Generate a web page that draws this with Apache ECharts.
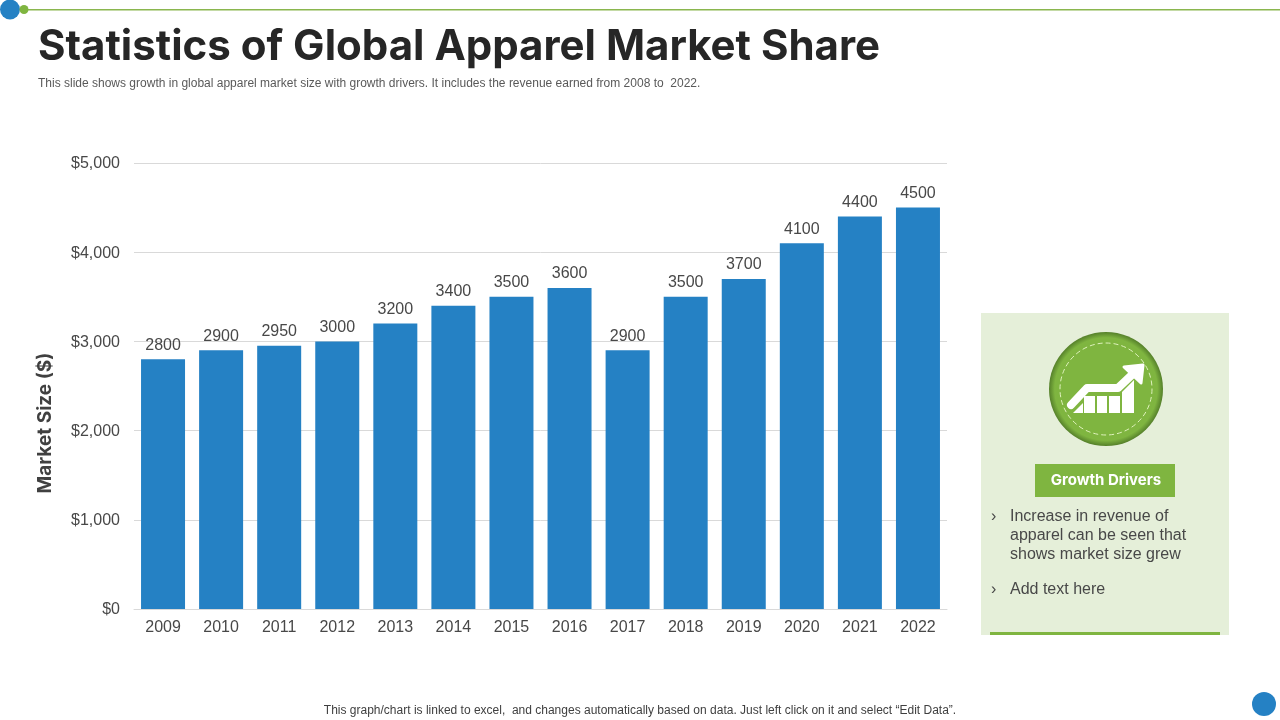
<!DOCTYPE html>
<html>
<head>
<meta charset="utf-8">
<title>Statistics of Global Apparel Market Share</title>
<script src="https://cdn.jsdelivr.net/npm/echarts@6/dist/echarts.min.js"></script>
<style>
html,body{margin:0;padding:0;background:#fff}
#main{width:1280px;height:720px}
</style>
</head>
<body>
<div id="main"></div>
<script>
const years = ['2009','2010','2011','2012','2013','2014','2015','2016','2017','2018','2019','2020','2021','2022']
const marketSize = [2800,2900,2950,3000,3200,3400,3500,3600,2900,3500,3700,4100,4400,4500]
const driverLines = ['Increase in revenue of','apparel can be seen that','shows market size grew']

const BLUE = '#2581c4'
const GREEN = '#7fb540'
const FONT = 'Liberation Sans'
const TEXT = '#484848'

const myChart = echarts.init(document.getElementById('main'))

function label(x, y, text, size, color, extra) {
    return {
        type: 'text', x, y,
        style: Object.assign({ text, fill: color, font: size + 'px "' + FONT + '"', textVerticalAlign: 'middle' }, extra)
    }
}

// side panel plus top decoration, everything that is not the chart itself
const decor = [
    { type: 'rect', shape: { x: 20, y: 9, width: 1260, height: 1.5 }, style: { fill: '#8ab64e' } },
    { type: 'circle', shape: { cx: 10, cy: 9.5, r: 10 }, style: { fill: BLUE } },
    { type: 'circle', shape: { cx: 24, cy: 9.5, r: 4.5 }, style: { fill: GREEN } },
    { type: 'circle', shape: { cx: 1264, cy: 704, r: 12 }, style: { fill: BLUE } },
    { type: 'text', x: 38, y: 47, style: { text: 'Statistics of Global Apparel Market Share', fill: '#262626', font: 'bold 42px Inter', textVerticalAlign: 'middle' } },
    label(38, 84, 'This slide shows growth in global apparel market size with growth drivers. It includes the revenue earned from 2008 to  2022.', 12, '#595959'),
    label(640, 711, 'This graph/chart is linked to excel,  and changes automatically based on data. Just left click on it and select \u201cEdit Data\u201d.', 12, '#404040', { textAlign: 'center' }),
    { type: 'text', x: 45, y: 423, rotation: Math.PI / 2, style: { text: 'Market Size ($)', fill: '#404040', font: 'bold 19px Inter', textAlign: 'center', textVerticalAlign: 'middle' } },

    { type: 'rect', shape: { x: 981, y: 313, width: 248, height: 322 }, style: { fill: '#e5efd9' } },
    { type: 'rect', shape: { x: 990, y: 632, width: 230, height: 3 }, style: { fill: GREEN } },
    {
        type: 'circle', shape: { cx: 1106, cy: 389, r: 57 },
        style: {
            fill: new echarts.graphic.RadialGradient(0.5, 0.5, 0.5, [
                { offset: 0, color: GREEN }, { offset: 0.9, color: GREEN }, { offset: 1, color: '#55802a' }
            ])
        }
    },
    { type: 'circle', shape: { cx: 1106, cy: 389, r: 46 }, style: { fill: 'none', stroke: '#dff2bd', lineWidth: 1, lineDash: [5, 3] } },
    { type: 'polygon', shape: { points: [[1073,413],[1083,403],[1083,413]] }, style: { fill: '#fff' } },
    { type: 'rect', shape: { x: 1084, y: 396, width: 11, height: 17 }, style: { fill: '#fff' } },
    { type: 'rect', shape: { x: 1097, y: 396, width: 10, height: 17 }, style: { fill: '#fff' } },
    { type: 'rect', shape: { x: 1109, y: 396, width: 11, height: 17 }, style: { fill: '#fff' } },
    { type: 'polygon', shape: { points: [[1122,392],[1134,380],[1134,413],[1122,413]] }, style: { fill: '#fff' } },
    { type: 'polyline', shape: { points: [[1071,405],[1087,388],[1118,388],[1136,371]] }, style: { fill: 'none', stroke: '#fff', lineWidth: 8, lineCap: 'round', lineJoin: 'round' } },
    { type: 'polygon', shape: { points: [[1124,367],[1143,365],[1141,383]] }, style: { fill: '#fff', stroke: '#fff', lineWidth: 3, lineJoin: 'round' } },

    { type: 'rect', shape: { x: 1035, y: 464, width: 140, height: 33 }, style: { fill: GREEN } },
    label(1106, 480.5, 'Growth Drivers', 15, '#fff', { textAlign: 'center', font: 'bold 15px Inter' }),
    label(991, 517, '\u203a', 16, TEXT),
    label(1010, 517, driverLines[0], 16, TEXT),
    label(1010, 536, driverLines[1], 16, TEXT),
    label(1010, 555, driverLines[2], 16, TEXT),
    label(991, 590, '\u203a', 16, TEXT),
    label(1010, 590, 'Add text here', 16, TEXT)
]

myChart.setOption({
    animation: false,
    backgroundColor: '#fff',
    textStyle: { fontFamily: FONT },
    grid: { left: 134, right: 333, top: 163, bottom: 111 },
    xAxis: {
        type: 'category',
        data: years,
        axisLine: { lineStyle: { color: '#d9d9d9' } },
        axisTick: { show: false },
        axisLabel: { color: TEXT, fontSize: 16, margin: 11 }
    },
    yAxis: {
        type: 'value',
        min: 0,
        max: 5000,
        interval: 1000,
        axisLine: { show: false },
        axisTick: { show: false },
        axisLabel: { color: TEXT, fontSize: 16, margin: 14, verticalAlign: 'top', lineHeight: 2, formatter: v => '$' + v.toLocaleString('en-US') },
        splitLine: { lineStyle: { color: '#d9d9d9' } }
    },
    series: [{
        type: 'bar',
        data: marketSize,
        barWidth: 44,
        itemStyle: { color: BLUE },
        label: { show: true, position: 'top', distance: 6, color: TEXT, fontSize: 16 }
    }],
    graphic: { elements: decor }
})
</script>
</body>
</html>
